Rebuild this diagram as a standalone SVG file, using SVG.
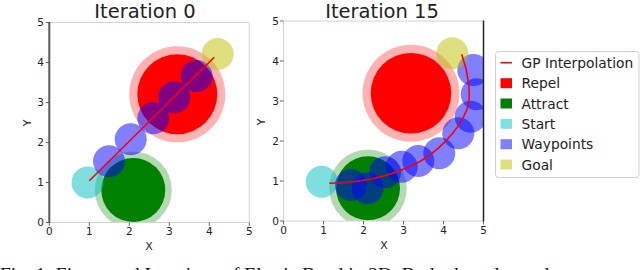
<svg xmlns="http://www.w3.org/2000/svg" width="640" height="270" viewBox="0 0 640 270">
<style>
text{font-family:"DejaVu Sans",sans-serif;fill:#222}
.title{font-size:19.5px;text-anchor:middle}
.tk{font-size:10.5px}
.tx{text-anchor:middle}
.ty{text-anchor:end}
.lab{font-size:11px;text-anchor:middle}
.leg{font-size:13.8px}
.spl{stroke:#d4d4d4;stroke-width:1;fill:none}
.tick{stroke:#444;stroke-width:0.8}
.rep-o{fill:#ff0000;fill-opacity:0.3}
.rep-i{fill:#ff0000}
.att-o{fill:#008000;fill-opacity:0.3}
.att-i{fill:#008000}
.start{fill:#00bfbf;fill-opacity:0.5}
.wp{fill:#0000ff;fill-opacity:0.5}
.goal{fill:#bfbf00;fill-opacity:0.5}
.gp{stroke:#ff0000;stroke-width:1.6;fill:none}
.cap{font-family:"Liberation Serif",serif;font-size:19.5px;fill:#111}
</style>
<defs>
<clipPath id="clipL"><rect x="49.3" y="22.5" width="200" height="200"/></clipPath>
<clipPath id="clipR"><rect x="283.5" y="21" width="200" height="200"/></clipPath>
</defs>

<!-- Left plot: Iteration 0 -->
<g id="plot-left">
<text class="title" x="145" y="18">Iteration 0</text>
<rect x="49.3" y="22.5" width="200" height="200" fill="#fff"/>
<g id="left-nodes" clip-path="url(#clipL)">
<g id="L-repel"><circle class="rep-o" cx="177.3" cy="94.3" r="48"/><circle class="rep-i" cx="177.3" cy="94.3" r="40"/></g>
<g id="L-attract"><circle class="att-o" cx="133.3" cy="190" r="38.5"/><circle class="att-i" cx="133.3" cy="190" r="32"/></g>
<g id="L-start"><circle class="start" cx="87.5" cy="182.5" r="16"/></g>
<g id="L-waypoints">
<circle class="wp" cx="109" cy="161.3" r="16"/>
<circle class="wp" cx="130.7" cy="139.3" r="16"/>
<circle class="wp" cx="153.3" cy="118.3" r="16"/>
<circle class="wp" cx="174.3" cy="97.3" r="16"/>
<circle class="wp" cx="196.7" cy="76" r="16"/>
</g>
<g id="L-goal"><circle class="goal" cx="217.7" cy="54" r="16"/></g>
<g id="L-connectors"><path class="gp" d="M89.3,180.7 L214.3,57.3"/></g>
</g>
<line class="spl" x1="49.3" y1="22.5" x2="249.3" y2="22.5"/>
<line class="spl" x1="249.3" y1="22.5" x2="249.3" y2="222.5"/>
<line class="spl" x1="49.3" y1="222.5" x2="249.3" y2="222.5"/>
<line x1="49.3" y1="22" x2="49.3" y2="223" stroke="#5a5a5a" stroke-width="2"/>
<g class="tick">
<line x1="49.3" y1="222.5" x2="49.3" y2="226"/><line x1="89.3" y1="222.5" x2="89.3" y2="226"/><line x1="129.3" y1="222.5" x2="129.3" y2="226"/><line x1="169.3" y1="222.5" x2="169.3" y2="226"/><line x1="209.3" y1="222.5" x2="209.3" y2="226"/><line x1="249.3" y1="222.5" x2="249.3" y2="226"/>
<line x1="45.8" y1="222.5" x2="49.3" y2="222.5"/><line x1="45.8" y1="182.5" x2="49.3" y2="182.5"/><line x1="45.8" y1="142.5" x2="49.3" y2="142.5"/><line x1="45.8" y1="102.5" x2="49.3" y2="102.5"/><line x1="45.8" y1="62.5" x2="49.3" y2="62.5"/><line x1="45.8" y1="22.5" x2="49.3" y2="22.5"/>
</g>
<g class="tk tx">
<text x="49.3" y="235">0</text><text x="89.3" y="235">1</text><text x="129.3" y="235">2</text><text x="169.3" y="235">3</text><text x="209.3" y="235">4</text><text x="249.3" y="235">5</text>
</g>
<g class="tk ty">
<text x="44" y="226.3">0</text><text x="44" y="186.3">1</text><text x="44" y="146.3">2</text><text x="44" y="106.3">3</text><text x="44" y="66.3">4</text><text x="44" y="26.3">5</text>
</g>
<text class="lab" x="149" y="249.5">X</text>
<text class="lab" transform="translate(30.5,123) rotate(-90)">Y</text>
</g>

<!-- Right plot: Iteration 15 -->
<g id="plot-right">
<text class="title" x="382" y="18">Iteration 15</text>
<rect x="283.5" y="21" width="200" height="200" fill="#fff"/>
<g id="right-nodes" clip-path="url(#clipR)">
<g id="R-repel"><circle class="rep-o" cx="411" cy="93.3" r="48.5"/><circle class="rep-i" cx="411" cy="93.3" r="40.3"/></g>
<g id="R-attract"><circle class="att-o" cx="368" cy="188.3" r="38.8"/><circle class="att-i" cx="368" cy="188.3" r="32"/></g>
<g id="R-start"><circle class="start" cx="321.7" cy="181.7" r="16"/></g>
<g id="R-waypoints">
<circle class="wp" cx="351" cy="185" r="16"/>
<circle class="wp" cx="367.7" cy="188.3" r="16"/>
<circle class="wp" cx="385" cy="172.3" r="16"/>
<circle class="wp" cx="401.7" cy="166.7" r="16"/>
<circle class="wp" cx="418.3" cy="161" r="16"/>
<circle class="wp" cx="439.3" cy="153.3" r="16"/>
<circle class="wp" cx="458.3" cy="133.3" r="16"/>
<circle class="wp" cx="470.7" cy="116.7" r="16"/>
<circle class="wp" cx="476.7" cy="94.3" r="16"/>
<circle class="wp" cx="473.3" cy="70" r="16"/>
</g>
<g id="R-goal"><circle class="goal" cx="452.3" cy="53.3" r="16"/></g>
<g id="R-connectors"><path class="gp" d="M329.3,183.3 C360,183 390,176 413.3,165 C436,154 458,132 466.7,110 C472.2,96 468,72 461.7,54.3"/></g>
</g>
<line class="spl" x1="283.5" y1="21" x2="483.5" y2="21"/>
<line class="spl" x1="283.5" y1="221" x2="483.5" y2="221"/>
<line class="spl" x1="283.5" y1="21" x2="283.5" y2="221"/>
<line x1="483.5" y1="20.5" x2="483.5" y2="221.5" stroke="#222" stroke-width="1.5"/>
<g class="tick">
<line x1="283.5" y1="221" x2="283.5" y2="224.5"/><line x1="323.5" y1="221" x2="323.5" y2="224.5"/><line x1="363.5" y1="221" x2="363.5" y2="224.5"/><line x1="403.5" y1="221" x2="403.5" y2="224.5"/><line x1="443.5" y1="221" x2="443.5" y2="224.5"/><line x1="483.5" y1="221" x2="483.5" y2="224.5"/>
<line x1="280" y1="221" x2="283.5" y2="221"/><line x1="280" y1="181" x2="283.5" y2="181"/><line x1="280" y1="141" x2="283.5" y2="141"/><line x1="280" y1="101" x2="283.5" y2="101"/><line x1="280" y1="61" x2="283.5" y2="61"/><line x1="280" y1="21" x2="283.5" y2="21"/>
</g>
<g class="tk tx">
<text x="283.5" y="233.5">0</text><text x="323.5" y="233.5">1</text><text x="363.5" y="233.5">2</text><text x="403.5" y="233.5">3</text><text x="443.5" y="233.5">4</text><text x="483.5" y="233.5">5</text>
</g>
<g class="tk ty">
<text x="279" y="224.8">0</text><text x="279" y="184.8">1</text><text x="279" y="144.8">2</text><text x="279" y="104.8">3</text><text x="279" y="64.8">4</text><text x="279" y="24.8">5</text>
</g>
<text class="lab" x="384" y="248.5">X</text>
<text class="lab" transform="translate(264.5,122) rotate(-90)">Y</text>
</g>

<!-- Legend -->
<g id="legend">
<rect x="495.5" y="51.5" width="143.5" height="126" rx="3" fill="#fff" stroke="#d0d0d0" stroke-width="1"/>
<line x1="500.5" y1="62.7" x2="512" y2="62.7" stroke="#ff0000" stroke-width="1.6"/>
<text class="leg" x="521.5" y="67.7">GP Interpolation</text>
<rect x="500.5" y="78.2" width="11.5" height="10" fill="#ff0000"/>
<text class="leg" x="521.5" y="88.2">Repel</text>
<rect x="500.5" y="98.5" width="11.5" height="10" fill="#008000"/>
<text class="leg" x="521.5" y="108.5">Attract</text>
<rect x="500.5" y="118.8" width="11.5" height="10" fill="#80dfdf"/>
<text class="leg" x="521.5" y="128.8">Start</text>
<rect x="500.5" y="139.2" width="11.5" height="10" fill="#8080ff"/>
<text class="leg" x="521.5" y="149.2">Waypoints</text>
<rect x="500.5" y="159.5" width="11.5" height="10" fill="#dfdf80"/>
<text class="leg" x="521.5" y="169.5">Goal</text>
</g>

<text class="cap" x="0" y="280.5">Fig. 1: Figure and Iterations of Elastic Band in 2D. Both obstacles and attractors are shown with their fields.</text>
</svg>
